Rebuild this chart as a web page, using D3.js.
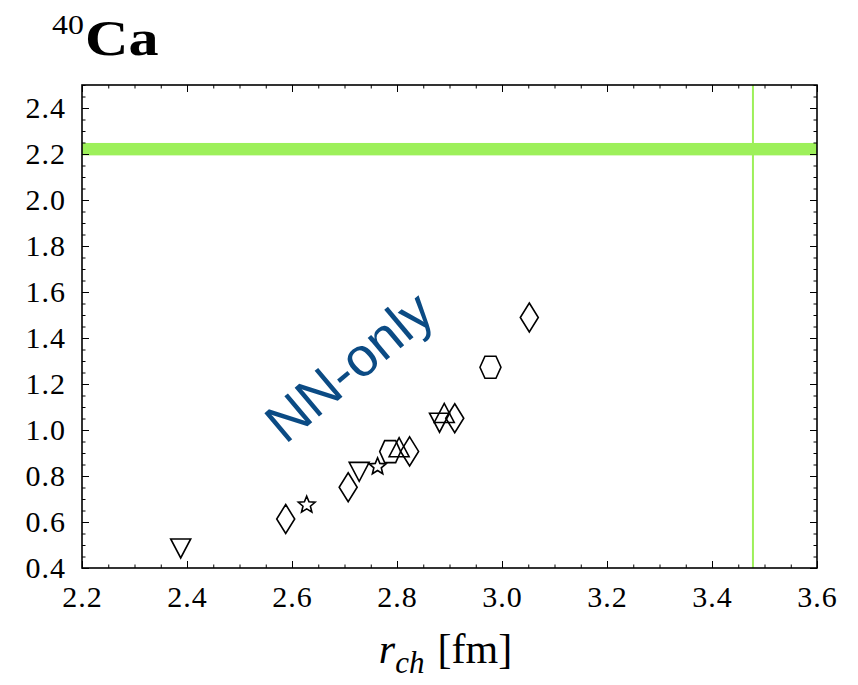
<!DOCTYPE html>
<html>
<head>
<meta charset="utf-8">
<script src="https://cdn.jsdelivr.net/npm/d3@7"></script>
<style>
  html, body { margin: 0; padding: 0; background: #fff; }
  svg { display: block; }
</style>
</head>
<body>
<div id="chart"></div>
<script>
// Charge radius vs. observable for 40Ca, grouped by marker family
const diamondsX = [2.588, 2.707, 2.824, 2.910, 3.052];
const diamondsY = [0.613, 0.751, 0.907, 1.051, 1.489];
const starsX = [2.628, 2.763];
const starsY = [0.674, 0.841];
const downTrianglesX = [2.388, 2.728, 2.881];
const downTrianglesY = [0.487, 0.820, 1.034];
const upTrianglesX = [2.804, 2.890];
const upTrianglesY = [0.923, 1.072];
const hexagonsX = [2.787, 2.978];
const hexagonsY = [0.906, 1.273];

// Experimental reference values
const expRadius = 3.478;
const expBandLow = 2.194;
const expBandHigh = 2.248;

// Axis tick labels
const xTickLabels = ["2.2", "2.4", "2.6", "2.8", "3.0", "3.2", "3.4", "3.6"];
const yTickLabels = ["0.4", "0.6", "0.8", "1.0", "1.2", "1.4", "1.6", "1.8", "2.0", "2.2", "2.4"];

const W = 858, H = 685;
const m = { left: 82, right: 41, top: 85, bottom: 117 };

const svg = d3.select("#chart").append("svg")
  .attr("width", W).attr("height", H);

const x = d3.scaleLinear().domain([2.2, 3.6]).range([m.left, W - m.right]);
const y = d3.scaleLinear().domain([0.4, 2.5]).range([H - m.bottom, m.top]);

const serif = "'Liberation Serif', 'Times New Roman', serif";
const green = "#9df05a";

// Experimental band and line
svg.append("rect")
  .attr("x", x(2.2)).attr("width", x(3.6) - x(2.2))
  .attr("y", y(expBandHigh)).attr("height", y(expBandLow) - y(expBandHigh))
  .attr("fill", green);
svg.append("line")
  .attr("x1", x(expRadius)).attr("x2", x(expRadius))
  .attr("y1", y(2.5)).attr("y2", y(0.4))
  .attr("stroke", green).attr("stroke-width", 2);

// Ticks: majors every 0.2 with labels, minors every 0.05, drawn inward on all sides
const xMajor = xTickLabels.map(Number);
const yMajor = yTickLabels.map(Number);
const xMinor = d3.range(0, 29).map(i => +(2.2 + i * 0.05).toFixed(2));
const yMinor = d3.range(0, 43).map(i => +(0.4 + i * 0.05).toFixed(2));
const bottomY = y(0.4), topY = y(2.5), leftX = x(2.2), rightX = x(3.6);

function styleAxis(g) {
  g.attr("font-family", null).attr("font-size", null);
  g.select(".domain").remove();
  g.selectAll(".tick line").attr("stroke", "#000").attr("stroke-width", 1);
  g.selectAll(".tick text")
    .style("font-family", serif)
    .style("font-size", "30px")
    .style("letter-spacing", "1px")
    .attr("fill", "#000");
}

svg.append("g").attr("transform", `translate(0,${bottomY})`)
  .call(d3.axisBottom(x).tickValues(xMinor).tickSizeInner(-3.5).tickSizeOuter(0).tickFormat(""))
  .call(styleAxis);
svg.append("g").attr("transform", `translate(0,${bottomY})`)
  .call(d3.axisBottom(x).tickValues(xMajor).tickSizeInner(-7).tickSizeOuter(0)
    .tickPadding(18).tickFormat((d, i) => xTickLabels[i]))
  .call(styleAxis);
svg.append("g").attr("transform", `translate(0,${topY})`)
  .call(d3.axisTop(x).tickValues(xMinor).tickSizeInner(-3.5).tickSizeOuter(0).tickFormat(""))
  .call(styleAxis);
svg.append("g").attr("transform", `translate(0,${topY})`)
  .call(d3.axisTop(x).tickValues(xMajor).tickSizeInner(-7).tickSizeOuter(0).tickFormat(""))
  .call(styleAxis);

svg.append("g").attr("transform", `translate(${leftX},0)`)
  .call(d3.axisLeft(y).tickValues(yMinor).tickSizeInner(-3.5).tickSizeOuter(0).tickFormat(""))
  .call(styleAxis);
svg.append("g").attr("transform", `translate(${leftX},0)`)
  .call(d3.axisLeft(y).tickValues(yMajor).tickSizeInner(-7).tickSizeOuter(0)
    .tickPadding(16).tickFormat((d, i) => yTickLabels[i]))
  .call(styleAxis);
svg.append("g").attr("transform", `translate(${rightX},0)`)
  .call(d3.axisRight(y).tickValues(yMinor).tickSizeInner(-3.5).tickSizeOuter(0).tickFormat(""))
  .call(styleAxis);
svg.append("g").attr("transform", `translate(${rightX},0)`)
  .call(d3.axisRight(y).tickValues(yMajor).tickSizeInner(-7).tickSizeOuter(0).tickFormat(""))
  .call(styleAxis);

// Frame
svg.append("rect")
  .attr("x", leftX).attr("y", topY)
  .attr("width", rightX - leftX).attr("height", bottomY - topY)
  .attr("fill", "none").attr("stroke", "#000").attr("stroke-width", 1.6);

// Marker shapes (outline polygons around the origin)
const poly = pts => "M" + pts.map(p => p.join(",")).join("L") + "Z";
const shapes = {
  diamond: poly([[0, -14.5], [9, 0], [0, 14.5], [-9, 0]]),
  down: poly([[-10, -9], [10, -9], [0, 10]]),
  up: poly([[-10, 9], [10, 9], [0, -10]]),
  hexagon: poly([[-10.5, 0], [-5.5, -11], [5.5, -11], [10.5, 0], [5.5, 11], [-5.5, 11]]),
  star: poly(d3.range(10).map(i => {
    const r = i % 2 === 0 ? 8.8 : 3.9;
    const a = -Math.PI / 2 + i * Math.PI / 5;
    return [r * Math.cos(a), r * Math.sin(a)];
  }))
};

const series = [
  { shape: "diamond", xs: diamondsX, ys: diamondsY },
  { shape: "star", xs: starsX, ys: starsY },
  { shape: "down", xs: downTrianglesX, ys: downTrianglesY },
  { shape: "up", xs: upTrianglesX, ys: upTrianglesY },
  { shape: "hexagon", xs: hexagonsX, ys: hexagonsY }
];

series.forEach(s => {
  svg.append("g").selectAll("path")
    .data(s.xs.map((v, i) => [v, s.ys[i]]))
    .join("path")
    .attr("d", shapes[s.shape])
    .attr("transform", d => `translate(${x(d[0])},${y(d[1])})`)
    .attr("fill", "none").attr("stroke", "#000").attr("stroke-width", 1.6)
    .attr("stroke-linejoin", "miter");
});

// Annotation
svg.append("text")
  .attr("transform", `translate(${x(2.587)},${y(0.935)}) rotate(-40)`)
  .style("font-family", "'Liberation Sans', Arial, sans-serif")
  .style("font-size", "55px")
  .attr("fill", "#0b4b84")
  .text("NN-only");

// Title: mass number as a superscript before the element symbol
const title = svg.append("text")
  .attr("transform", "translate(52,55) scale(1.18,1)")
  .style("font-family", serif);
title.append("tspan").style("font-size", "27px").attr("dy", -21).text("40");
title.append("tspan").style("font-size", "51px").style("font-weight", "bold")
  .attr("dy", 21).attr("dx", 1).text("Ca");

// X axis label
const xl = svg.append("text")
  .attr("x", (leftX + rightX) / 2 - 4).attr("y", 663)
  .attr("text-anchor", "middle").style("font-family", serif).style("font-size", "42px");
xl.append("tspan").style("font-style", "italic").text("r");
xl.append("tspan").style("font-style", "italic").style("font-size", "31px").attr("dy", 10).text("ch");
xl.append("tspan").attr("dy", -10).attr("dx", 13).text("[fm]");
</script>
</body>
</html>
